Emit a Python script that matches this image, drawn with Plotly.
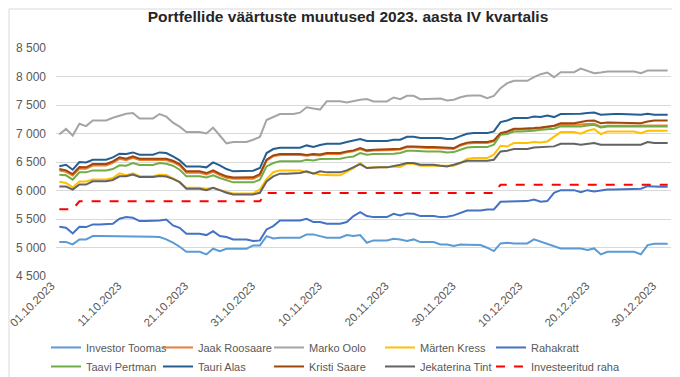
import pandas as pd
import plotly.graph_objects as go

# ---- data (daily values, 01.10.2023 - 31.12.2023) ----
START_DATE = "2023-10-01"
END_DATE = "2023-12-31"
dates = pd.date_range(START_DATE, END_DATE, freq="D")

tick_labels = ["01.10.2023", "11.10.2023", "21.10.2023", "31.10.2023", "10.11.2023",
               "20.11.2023", "30.11.2023", "10.12.2023", "20.12.2023", "30.12.2023"]
tick_dates = pd.to_datetime(tick_labels, format="%d.%m.%Y")

investor_toomas = [
    5095, 5095, 5054, 5142, 5142, 5200, 5200, 5200, 5200, 5200, 5200, 5189, 5189, 5189, 5189,
    5183, 5142, 5084, 5013, 4926, 4926, 4926, 4879, 4978, 4937, 4978, 4978, 4978, 4978, 5037,
    5037, 5200, 5160, 5171, 5171, 5171, 5171, 5230, 5230, 5200, 5171, 5171, 5171, 5218, 5200,
    5218, 5084, 5125, 5125, 5125, 5154, 5142, 5113, 5142, 5095, 5095, 5095, 5054, 5054, 5025,
    5054, 5050, 5043, 5043, 4996, 4937, 5072, 5084, 5072, 5072, 5072, 5142, 5101, 5066, 5013,
    4984, 4984, 4984, 4984, 4955, 4984, 4879, 4926, 4926, 4926, 4926, 4926, 4879, 5043, 5066,
    5066, 5066]

kristi_saare = [
    6376, 6353, 6289, 6411, 6406, 6464, 6464, 6464, 6511, 6581, 6558, 6598, 6558, 6558, 6558,
    6569, 6558, 6522, 6464, 6336, 6336, 6336, 6306, 6353, 6295, 6248, 6230, 6230, 6230, 6232,
    6289, 6540, 6616, 6639, 6639, 6639, 6639, 6625, 6640, 6630, 6657, 6657, 6657, 6686, 6704,
    6744, 6704, 6715, 6715, 6715, 6727, 6733, 6774, 6774, 6762, 6762, 6762, 6756, 6739, 6744,
    6803, 6840, 6850, 6850, 6850, 6879, 7007, 7036, 7083, 7083, 7083, 7095, 7106, 7124, 7136,
    7182, 7182, 7182, 7200, 7223, 7229, 7182, 7194, 7194, 7194, 7194, 7194, 7182, 7212, 7229,
    7229, 7229]

jaak_roosaare = [
    6350, 6328, 6264, 6386, 6381, 6439, 6439, 6439, 6486, 6556, 6533, 6573, 6533, 6533, 6533,
    6544, 6533, 6497, 6439, 6311, 6311, 6311, 6281, 6328, 6270, 6223, 6205, 6205, 6205, 6207,
    6264, 6525, 6601, 6624, 6624, 6624, 6624, 6610, 6625, 6615, 6642, 6642, 6642, 6671, 6689,
    6729, 6689, 6700, 6700, 6700, 6712, 6718, 6759, 6759, 6747, 6747, 6747, 6741, 6724, 6729,
    6788, 6825, 6835, 6835, 6835, 6864, 6995, 7024, 7070, 7070, 7070, 7082, 7093, 7110, 7120,
    7150, 7150, 7150, 7160, 7165, 7170, 7120, 7135, 7135, 7135, 7135, 7135, 7135, 7140, 7140,
    7140, 7140]

marko_oolo = [
    6985, 7080, 6965, 7172, 7130, 7230, 7230, 7230, 7275, 7305, 7345, 7360, 7264, 7264, 7264,
    7342, 7295, 7190, 7120, 7027, 7027, 7027, 7000, 7103, 6965, 6828, 6852, 6852, 6852, 6890,
    6940, 7237, 7295, 7342, 7342, 7342, 7365, 7460, 7438, 7420, 7564, 7564, 7564, 7546, 7574,
    7591, 7603, 7562, 7562, 7562, 7632, 7603, 7661, 7661, 7603, 7603, 7603, 7615, 7580, 7591,
    7635, 7662, 7667, 7667, 7620, 7661, 7796, 7883, 7924, 7924, 7924, 7988, 8041, 8070, 7988,
    8076, 8076, 8076, 8140, 8105, 8058, 8070, 8088, 8088, 8088, 8088, 8088, 8058, 8105, 8105,
    8105, 8105]

marten_kress = [
    6155, 6133, 6054, 6160, 6160, 6192, 6192, 6192, 6220, 6300, 6270, 6300, 6250, 6250, 6250,
    6275, 6270, 6212, 6145, 6047, 6047, 6047, 6030, 6047, 6006, 5971, 5948, 5948, 5948, 5948,
    6018, 6200, 6320, 6353, 6353, 6353, 6353, 6318, 6306, 6277, 6266, 6266, 6266, 6336, 6394,
    6482, 6394, 6406, 6406, 6406, 6423, 6411, 6470, 6470, 6435, 6435, 6435, 6423, 6423, 6435,
    6482, 6555, 6569, 6569, 6569, 6628, 6785, 6774, 6832, 6832, 6832, 6850, 6844, 6861, 6937,
    7025, 7025, 7025, 6995, 7048, 7077, 6990, 7036, 7036, 7036, 7036, 7036, 7007, 7048, 7048,
    7048, 7048]

rahakratt = [
    5364, 5346, 5247, 5364, 5358, 5405, 5405, 5405, 5417, 5504, 5533, 5522, 5463, 5463, 5463,
    5475, 5492, 5387, 5346, 5241, 5241, 5241, 5218, 5288, 5200, 5183, 5142, 5142, 5142, 5113,
    5125, 5317, 5376, 5475, 5475, 5475, 5475, 5504, 5446, 5446, 5417, 5417, 5417, 5446, 5551,
    5621, 5551, 5533, 5533, 5533, 5592, 5563, 5598, 5592, 5551, 5551, 5551, 5533, 5539, 5563,
    5609, 5650, 5650, 5650, 5668, 5668, 5802, 5802, 5814, 5814, 5814, 5843, 5802, 5814, 5960,
    6006, 6006, 6006, 5971, 6006, 5983, 6000, 6018, 6018, 6018, 6018, 6018, 6030, 6076, 6065,
    6065, 6065]

taavi_pertman = [
    6277, 6266, 6190, 6318, 6318, 6353, 6353, 6353, 6376, 6441, 6435, 6482, 6447, 6447, 6447,
    6482, 6470, 6435, 6365, 6248, 6248, 6248, 6230, 6266, 6219, 6178, 6143, 6143, 6143, 6143,
    6190, 6423, 6482, 6511, 6511, 6511, 6511, 6540, 6528, 6552, 6558, 6558, 6558, 6581, 6598,
    6657, 6628, 6639, 6639, 6639, 6645, 6657, 6698, 6698, 6686, 6686, 6686, 6686, 6668, 6674,
    6715, 6755, 6762, 6762, 6762, 6803, 6978, 6990, 7036, 7036, 7036, 7048, 7066, 7077, 7083,
    7124, 7124, 7124, 7124, 7141, 7153, 7106, 7124, 7124, 7124, 7124, 7124, 7112, 7124, 7124,
    7124, 7124]

tauri_alas = [
    6425, 6452, 6365, 6500, 6493, 6540, 6540, 6540, 6581, 6645, 6639, 6668, 6628, 6628, 6628,
    6668, 6657, 6598, 6528, 6423, 6423, 6423, 6406, 6493, 6441, 6376, 6336, 6336, 6336, 6347,
    6394, 6657, 6727, 6750, 6750, 6750, 6750, 6791, 6762, 6797, 6820, 6820, 6820, 6850, 6873,
    6902, 6867, 6867, 6867, 6867, 6890, 6890, 6943, 6943, 6920, 6920, 6920, 6920, 6902, 6908,
    6955, 6995, 7007, 7007, 7007, 7036, 7200, 7229, 7270, 7270, 7270, 7299, 7288, 7317, 7288,
    7340, 7340, 7340, 7346, 7358, 7369, 7328, 7340, 7340, 7340, 7340, 7340, 7328, 7346, 7328,
    7328, 7328]

jekaterina_tint = [
    6070, 6068, 6015, 6104, 6104, 6162, 6162, 6162, 6185, 6250, 6250, 6280, 6238, 6238, 6238,
    6255, 6244, 6205, 6146, 6030, 6030, 6030, 6006, 6047, 6006, 5960, 5930, 5930, 5930, 5930,
    5960, 6160, 6248, 6295, 6295, 6295, 6306, 6336, 6295, 6336, 6318, 6318, 6318, 6353, 6411,
    6464, 6394, 6406, 6406, 6406, 6423, 6452, 6482, 6482, 6452, 6452, 6452, 6435, 6423, 6452,
    6493, 6523, 6523, 6523, 6523, 6540, 6686, 6698, 6727, 6727, 6727, 6756, 6762, 6762, 6774,
    6820, 6820, 6820, 6803, 6820, 6832, 6803, 6803, 6803, 6803, 6803, 6803, 6803, 6850, 6832,
    6832, 6832]

investeeritud_raha = (
    [5670] * 3 + [5810] * 28 + [5955] * 35 + [6100] * 26)

# (name, values, colour, dash, legend column)
series = [
    ("Investor Toomas", investor_toomas, "#5B9BD5", "solid", 1),
    ("Jaak Roosaare", jaak_roosaare, "#ED7D31", "solid", 2),
    ("Marko Oolo", marko_oolo, "#A5A5A5", "solid", 3),
    ("Märten Kress", marten_kress, "#FFC000", "solid", 4),
    ("Rahakratt", rahakratt, "#4472C4", "solid", 5),
    ("Taavi Pertman", taavi_pertman, "#70AD47", "solid", 1),
    ("Tauri Alas", tauri_alas, "#255E91", "solid", 2),
    ("Kristi Saare", kristi_saare, "#9E480E", "solid", 3),
    ("Jekaterina Tint", jekaterina_tint, "#636363", "solid", 4),
    ("Investeeritud raha", investeeritud_raha, "#FF0000", "dash", 5),
]

fig = go.Figure()
for name, vals, color, dash, col in series:
    fig.add_trace(go.Scatter(
        x=dates, y=vals, name=name, mode="lines",
        line=dict(color=color, width=2, dash=dash),
        legend="legend" if col == 1 else f"legend{col}",
    ))

W, H = 680, 377
ml, mr, mt, mb = 48, 17, 40, 109
PW, PH = W - ml - mr, H - mt - mb

legend_cols_px = [38, 150, 261, 372, 483]
legend_common = dict(
    orientation="v", xref="container", xanchor="left",
    yref="container", y=0.138, yanchor="top",
    font=dict(family="Liberation Sans", size=11, color="#595959"),
    traceorder="normal", itemwidth=30, bgcolor="rgba(0,0,0,0)",
    tracegroupgap=0,
)
legends = {}
for i, px in enumerate(legend_cols_px):
    key = "legend" if i == 0 else f"legend{i + 1}"
    legends[key] = dict(legend_common, x=px / W)

fig.update_layout(
    width=W, height=H,
    margin=dict(l=ml, r=mr, t=mt, b=mb, autoexpand=False),
    paper_bgcolor="white", plot_bgcolor="white",
    separators=", ",
    font=dict(family="Liberation Sans", size=12, color="#595959"),
    title=dict(
        text="<b>Portfellide väärtuste muutused 2023. aasta IV kvartalis</b>",
        x=0.5, xanchor="center", y=0.976, yanchor="middle",
        font=dict(family="Liberation Sans", size=15.5, color="#262626"),
    ),
    xaxis=dict(
        type="date",
        range=["2023-09-30 12:00", "2023-12-31 12:00"],
        tickvals=tick_dates, ticktext=tick_labels,
        tickangle=-45, showgrid=False, zeroline=False,
        showline=False, ticks="", automargin=False,
        ticklabelshift=-8, ticklabelstandoff=0,
        ticklabeloverflow="allow",
        tickfont=dict(size=11.5, color="#595959"),
    ),
    yaxis=dict(
        range=[4500, 8500], dtick=500, tickformat=",d",
        showgrid=True, gridcolor="#D9D9D9", gridwidth=1,
        zeroline=False, showline=False, ticks="", automargin=False,
        ticklabelstandoff=9,
        tickfont=dict(size=12, color="#595959"),
    ),
    showlegend=True,
    **legends,
)
# chart-area border
fig.add_shape(type="rect", xref="paper", yref="paper",
              x0=-(ml - 1) / PW, x1=1 + 12 / PW,
              y0=-(mb - 1) / PH, y1=1 + (mt - 1) / PH,
              line=dict(color="#D9D9D9", width=1), layer="below")

fig.write_html("out.html")
